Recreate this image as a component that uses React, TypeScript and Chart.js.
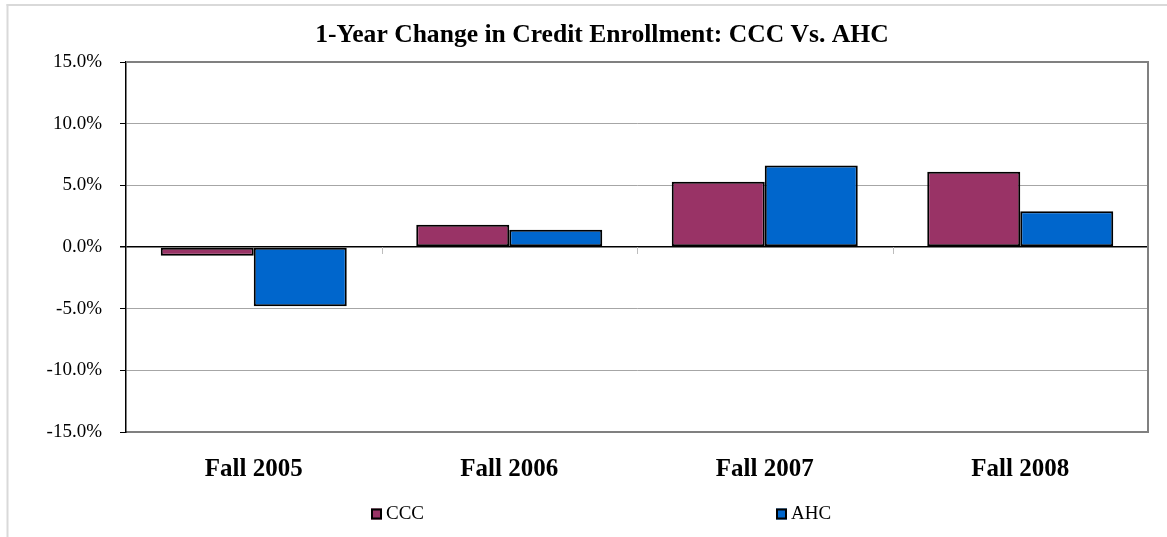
import React, { useEffect, useRef } from "react";
import { Chart, registerables } from "chart.js";

Chart.register(...registerables);

const categories = ["Fall 2005", "Fall 2006", "Fall 2007", "Fall 2008"];
const cccValues = [-0.7, 1.8, 5.3, 6.1];
const ahcValues = [-4.8, 1.4, 6.6, 2.9];
const seriesNames = ["CCC", "AHC"];
const seriesColors = ["#993366", "#0066CC"];
const titleText = "1-Year Change in Credit Enrollment: CCC Vs. AHC";
const yMin = -15;
const yMax = 15;
const yStep = 5;

const FONT = "'Liberation Serif', 'Times New Roman', serif";
const legendX = [371, 776];
const legendY = 514;
const titleX = 602;
const titleY = 35;

const framePlugin = {
  id: "framePlugin",
  beforeDraw(chart: any) {
    const ctx = chart.ctx;
    ctx.save();
    ctx.fillStyle = "#ffffff";
    ctx.fillRect(0, 0, chart.width, chart.height);
    // outer chart border (left & top visible)
    ctx.fillStyle = "#d9d9d9";
    ctx.fillRect(6.5, 4, 2, chart.height);
    ctx.fillRect(6.5, 4, chart.width, 2);
    ctx.restore();
  },
  afterDatasetsDraw(chart: any) {
    const ctx = chart.ctx;
    const area = chart.chartArea;
    const xs = chart.scales.x;
    const ys = chart.scales.y;
    ctx.save();
    // category tick marks at zero line
    const y0 = ys.getPixelForValue(0);
    ctx.strokeStyle = "#bdbdbd";
    ctx.lineWidth = 1;
    for (let i = 0; i < categories.length - 1; i++) {
      const bx = Math.round((xs.getPixelForTick(i) + xs.getPixelForTick(i + 1)) / 2) + 0.5;
      ctx.beginPath();
      ctx.moveTo(bx, y0);
      ctx.lineTo(bx, y0 + 7);
      ctx.stroke();
    }
    // top and right plot border
    ctx.strokeStyle = "#808080";
    ctx.lineWidth = 2;
    ctx.beginPath();
    ctx.moveTo(area.left, area.top);
    ctx.lineTo(area.right, area.top);
    ctx.lineTo(area.right, area.bottom);
    ctx.stroke();
    ctx.restore();
  },
  afterDraw(chart: any) {
    const ctx = chart.ctx;
    ctx.save();
    // title
    ctx.fillStyle = "#000";
    ctx.font = `bold 25.6px ${FONT}`;
    ctx.textAlign = "center";
    ctx.textBaseline = "middle";
    ctx.fillText(titleText, titleX, titleY);
    // legend
    chart.data.datasets.forEach((ds: any, i: number) => {
      const x = legendX[i];
      ctx.fillStyle = ds.backgroundColor;
      ctx.fillRect(x, legendY - 5.5, 11, 11);
      ctx.strokeStyle = "#000";
      ctx.lineWidth = 2;
      ctx.strokeRect(x + 1, legendY - 4.5, 9, 9);
      ctx.fillStyle = "#000";
      ctx.font = `19px ${FONT}`;
      ctx.textBaseline = "middle";
      ctx.textAlign = "left";
      ctx.fillText(ds.label, x + 15, legendY);
    });
    ctx.restore();
  },
};

export default function App() {
  const ref = useRef<HTMLCanvasElement | null>(null);

  useEffect(() => {
    if (!ref.current) return;
    const chart = new Chart(ref.current, {
      type: "bar",
      data: {
        labels: categories,
        datasets: [
          {
            label: seriesNames[0],
            data: cccValues,
            backgroundColor: seriesColors[0],
            borderColor: "#000",
            borderWidth: 2,
            borderSkipped: false,
            categoryPercentage: 0.728,
            barPercentage: 1,
          },
          {
            label: seriesNames[1],
            data: ahcValues,
            backgroundColor: seriesColors[1],
            borderColor: "#000",
            borderWidth: 2,
            borderSkipped: false,
            categoryPercentage: 0.728,
            barPercentage: 1,
          },
        ],
      },
      options: {
        responsive: false,
        animation: false,
        layout: { padding: { left: 0, right: 19, top: 62, bottom: 52 } },
        plugins: {
          legend: { display: false },
          tooltip: { enabled: false },
          title: { display: false },
        },
        scales: {
          x: {
            afterFit: (s: any) => {
              s.height = 53;
            },
            grid: { display: false, drawTicks: false },
            border: { display: true, color: "#808080", width: 2 },
            ticks: {
              color: "#000",
              padding: 23,
              font: { family: FONT, size: 25, weight: "bold", lineHeight: 1.2 },
              maxRotation: 0,
            },
          },
          y: {
            min: yMin,
            max: yMax,
            afterFit: (s: any) => {
              s.width = 126;
            },
            grid: {
              color: (c: any) => (c.tick && c.tick.value === 0 ? "#000000" : "#a6a6a6"),
              lineWidth: (c: any) => (c.tick && c.tick.value === 0 ? 1.5 : 1),
              tickLength: 6,
              tickColor: "#000",
            },
            border: { display: true, color: "#000", width: 1.5 },
            ticks: {
              stepSize: yStep,
              color: "#000",
              padding: 18,
              font: { family: FONT, size: 19 },
              callback: (v: any) => Number(v).toFixed(1) + "%",
            },
          },
        },
      },
      plugins: [framePlugin],
    });
    return () => chart.destroy();
  }, []);

  return (
    <div style={{ position: "absolute", left: 0, top: 0, width: 1167, height: 537 }}>
      <canvas ref={ref} width={1167} height={537} style={{ width: 1167, height: 537, display: "block" }} />
    </div>
  );
}
